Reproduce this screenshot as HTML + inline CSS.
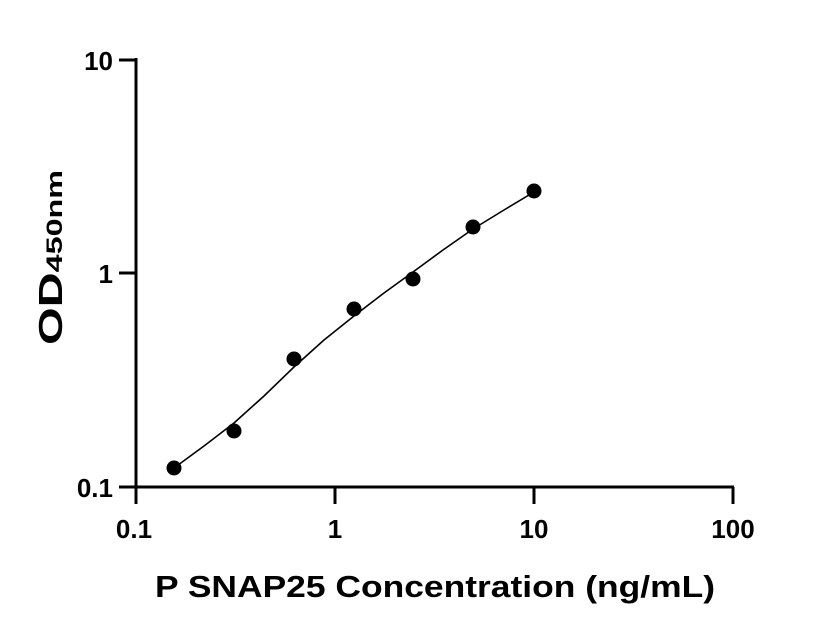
<!DOCTYPE html>
<html><head><style>body{margin:0;background:#fff}svg{display:block}</style></head>
<body>
<svg width="816" height="640" xmlns="http://www.w3.org/2000/svg" font-family="Liberation Sans, sans-serif" font-weight="bold">
<g stroke="#000" stroke-width="3" fill="none">
<line x1="136" y1="58" x2="136" y2="488"/>
<line x1="134.5" y1="487" x2="734" y2="487"/>
<line x1="119" y1="60" x2="136" y2="60"/>
<line x1="119" y1="273" x2="136" y2="273"/>
<line x1="119" y1="487" x2="136" y2="487"/>
<line x1="136" y1="487" x2="136" y2="504"/>
<line x1="335" y1="487" x2="335" y2="504"/>
<line x1="534" y1="487" x2="534" y2="504"/>
<line x1="733" y1="487" x2="733" y2="504"/>
</g>
<polyline points="174,468 204,446 234,423 264,396 294,367 324,340 354,316 384,293 413,272 443,250 473,229 504,210 534,192" fill="none" stroke="#000" stroke-width="1.6" stroke-linejoin="round"/>
<g fill="#000">
<circle cx="174" cy="468" r="7.5"/>
<circle cx="234" cy="431" r="7.5"/>
<circle cx="294" cy="359" r="7.5"/>
<circle cx="354" cy="309" r="7.5"/>
<circle cx="413" cy="279" r="7.5"/>
<circle cx="473" cy="227" r="7.5"/>
<circle cx="534" cy="191" r="7.5"/>
</g>
<g font-size="26" text-anchor="end">
<text x="113" y="70">10</text>
<text x="113" y="283">1</text>
<text x="113" y="497">0.1</text>
</g>
<g font-size="26" text-anchor="middle">
<text x="134" y="538">0.1</text>
<text x="335" y="538">1</text>
<text x="534" y="538">10</text>
<text x="733" y="538">100</text>
</g>
<text x="155" y="597" font-size="31" textLength="560" lengthAdjust="spacingAndGlyphs">P SNAP25 Concentration (ng/mL)</text>
<text transform="translate(62,345) rotate(-90)" font-size="33" textLength="175" lengthAdjust="spacingAndGlyphs">OD<tspan font-size="22">450nm</tspan></text>
</svg>
</body></html>
